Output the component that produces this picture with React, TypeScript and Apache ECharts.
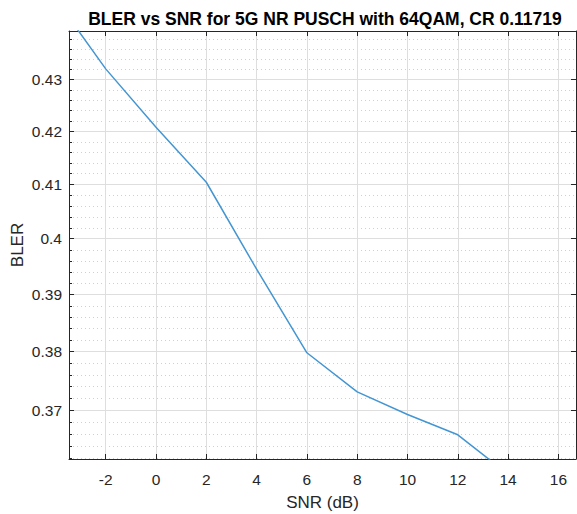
import React, { useEffect, useRef } from "react";
import * as echarts from "echarts";

const snr = [-4, -2, 0, 2, 4, 6, 8, 10, 12, 14];
const bler = [0.4461, 0.4321, 0.4208, 0.4104, 0.3945, 0.3798, 0.3731, 0.3693, 0.3659, 0.3594];
const xTicks = [-2, 0, 2, 4, 6, 8, 10, 12, 14, 16];
const yTicks = [0.37, 0.38, 0.39, 0.4, 0.41, 0.42, 0.43];
const yTickLabels = ["0.37", "0.38", "0.39", "0.4", "0.41", "0.42", "0.43"];
const yMinorTicks = [
  0.362, 0.364, 0.366, 0.368, 0.372, 0.374, 0.376, 0.378, 0.382, 0.384, 0.386, 0.388,
  0.392, 0.394, 0.396, 0.398, 0.402, 0.404, 0.406, 0.408, 0.412, 0.414, 0.416, 0.418,
  0.422, 0.424, 0.426, 0.428, 0.432, 0.434, 0.436, 0.438,
];
const xRange = [-3.46, 16.7];
const yRange = [0.3619, 0.4396];

const FONT = "'Liberation Sans', Arial, Helvetica, sans-serif";
const TXT = "#262626";
const L = (v: number) => Math.log10(v);

export default function App() {
  const ref = useRef<HTMLDivElement>(null);
  useEffect(() => {
    document.body.style.margin = "0";
    if (!ref.current) return;
    const chart = echarts.init(ref.current, null, { renderer: "svg" });
    const yMajorLog = yTicks.map(L);
    const yMinorLog = yMinorTicks.map(L);
    const yMin = L(yRange[0]);
    const yMax = L(yRange[1]);
    const yLabel = (v: number) => {
      let best = 0;
      for (let i = 0; i < yMajorLog.length; i++) {
        if (Math.abs(yMajorLog[i] - v) < Math.abs(yMajorLog[best] - v)) best = i;
      }
      return yTickLabels[best];
    };
    const axisLine = { show: true, onZero: false, lineStyle: { color: TXT, width: 1 } };
    chart.setOption({
      animation: false,
      backgroundColor: "#ffffff",
      title: {
        text: "BLER vs SNR for 5G NR PUSCH with 64QAM, CR 0.11719",
        left: 320,
        textAlign: "center",
        top: 5,
        textStyle: { fontFamily: FONT, fontSize: 17.5, fontWeight: "bold", color: "#000" },
      },
      grid: { left: 69, top: 31, right: 1, bottom: 55, containLabel: false, outerBoundsMode: "none" },
      xAxis: [
        {
          type: "value",
          min: xRange[0],
          max: xRange[1],
          position: "bottom",
          name: "SNR (dB)",
          nameLocation: "middle",
          nameGap: 34.5,
          nameMoveOverlap: false,
          nameTextStyle: { fontFamily: FONT, fontSize: 17, color: TXT },
          axisLine,
          axisTick: { show: true, inside: true, length: 5, customValues: xTicks, lineStyle: { color: TXT } },
          axisLabel: { customValues: xTicks, margin: 12, fontFamily: FONT, fontSize: 15.5, color: TXT },
          splitLine: { show: true, lineStyle: { color: "#dedede", width: 1 } },
        },
        {
          type: "value",
          min: xRange[0],
          max: xRange[1],
          position: "top",
          axisLine,
          axisTick: { show: true, inside: true, length: 5, customValues: xTicks, lineStyle: { color: TXT } },
          axisLabel: { show: false },
          splitLine: { show: false },
        },
      ],
      yAxis: [
        {
          type: "value",
          min: yMin,
          max: yMax,
          position: "left",
          name: "BLER",
          nameLocation: "middle",
          nameGap: 43.5,
          nameRotate: 90,
          nameMoveOverlap: false,
          nameTextStyle: { fontFamily: FONT, fontSize: 17, color: TXT },
          axisLine,
          axisTick: { show: true, inside: true, length: 5, customValues: yMajorLog, lineStyle: { color: TXT } },
          axisLabel: { customValues: yMajorLog, formatter: yLabel, margin: 7, fontFamily: FONT, fontSize: 15.5, color: TXT },
          splitLine: { show: true, lineStyle: { color: "#dedede", width: 1 } },
        },
        {
          type: "value",
          min: yMin,
          max: yMax,
          position: "left",
          axisLine: { show: false, onZero: false },
          axisTick: { show: true, inside: true, length: 3, customValues: yMinorLog, lineStyle: { color: TXT } },
          axisLabel: { show: false, customValues: yMinorLog },
          splitLine: { show: true, lineStyle: { color: "#d0d0d0", width: 1, type: [1, 3] } },
        },
        {
          type: "value",
          min: yMin,
          max: yMax,
          position: "right",
          axisLine,
          axisTick: { show: true, inside: true, length: 5, customValues: yMajorLog, lineStyle: { color: TXT } },
          axisLabel: { show: false, customValues: yMajorLog },
          splitLine: { show: false },
        },
      ],
      series: [
        {
          type: "line",
          xAxisIndex: 0,
          yAxisIndex: 0,
          data: snr.map((x, i) => [x, L(bler[i])]),
          showSymbol: false,
          symbol: "none",
          clip: true,
          lineStyle: { color: "#4496d3", width: 1.5 },
          z: 5,
        },
      ],
    });
    return () => chart.dispose();
  }, []);
  return <div ref={ref} style={{ width: 577, height: 514 }} />;
}
